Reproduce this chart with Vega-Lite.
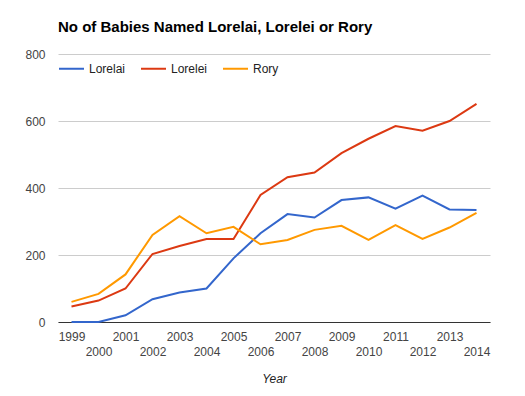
{
  "$schema": "https://vega.github.io/schema/vega-lite/v6.json",
  "width": 432,
  "height": 268,
  "autosize": {"type": "none"},
  "padding": {"left": 58, "top": 54, "right": 35, "bottom": 74},
  "background": "white",
  "config": {"font": "Liberation Sans", "view": {"stroke": null}},
  "title": {
    "text": "No of Babies Named Lorelai, Lorelei or Rory",
    "anchor": "start",
    "frame": "group",
    "fontSize": 15,
    "fontWeight": "bold",
    "color": "#000000",
    "offset": 13
  },
  "data": {
    "values": [
      {"Year": 1999, "Name": "Lorelai", "Count": 0},
      {"Year": 2000, "Name": "Lorelai", "Count": 0},
      {"Year": 2001, "Name": "Lorelai", "Count": 20},
      {"Year": 2002, "Name": "Lorelai", "Count": 68},
      {"Year": 2003, "Name": "Lorelai", "Count": 88},
      {"Year": 2004, "Name": "Lorelai", "Count": 100},
      {"Year": 2005, "Name": "Lorelai", "Count": 190},
      {"Year": 2006, "Name": "Lorelai", "Count": 265},
      {"Year": 2007, "Name": "Lorelai", "Count": 322},
      {"Year": 2008, "Name": "Lorelai", "Count": 312},
      {"Year": 2009, "Name": "Lorelai", "Count": 364},
      {"Year": 2010, "Name": "Lorelai", "Count": 372},
      {"Year": 2011, "Name": "Lorelai", "Count": 338},
      {"Year": 2012, "Name": "Lorelai", "Count": 377},
      {"Year": 2013, "Name": "Lorelai", "Count": 336},
      {"Year": 2014, "Name": "Lorelai", "Count": 334},
      {"Year": 1999, "Name": "Lorelei", "Count": 46},
      {"Year": 2000, "Name": "Lorelei", "Count": 64},
      {"Year": 2001, "Name": "Lorelei", "Count": 100},
      {"Year": 2002, "Name": "Lorelei", "Count": 203},
      {"Year": 2003, "Name": "Lorelei", "Count": 227},
      {"Year": 2004, "Name": "Lorelei", "Count": 248},
      {"Year": 2005, "Name": "Lorelei", "Count": 248},
      {"Year": 2006, "Name": "Lorelei", "Count": 379},
      {"Year": 2007, "Name": "Lorelei", "Count": 432},
      {"Year": 2008, "Name": "Lorelei", "Count": 446},
      {"Year": 2009, "Name": "Lorelei", "Count": 504},
      {"Year": 2010, "Name": "Lorelei", "Count": 547},
      {"Year": 2011, "Name": "Lorelei", "Count": 585},
      {"Year": 2012, "Name": "Lorelei", "Count": 571},
      {"Year": 2013, "Name": "Lorelei", "Count": 600},
      {"Year": 2014, "Name": "Lorelei", "Count": 651},
      {"Year": 1999, "Name": "Rory", "Count": 60},
      {"Year": 2000, "Name": "Rory", "Count": 84},
      {"Year": 2001, "Name": "Rory", "Count": 142},
      {"Year": 2002, "Name": "Rory", "Count": 260},
      {"Year": 2003, "Name": "Rory", "Count": 316},
      {"Year": 2004, "Name": "Rory", "Count": 265},
      {"Year": 2005, "Name": "Rory", "Count": 284},
      {"Year": 2006, "Name": "Rory", "Count": 232},
      {"Year": 2007, "Name": "Rory", "Count": 245},
      {"Year": 2008, "Name": "Rory", "Count": 275},
      {"Year": 2009, "Name": "Rory", "Count": 287},
      {"Year": 2010, "Name": "Rory", "Count": 245},
      {"Year": 2011, "Name": "Rory", "Count": 289},
      {"Year": 2012, "Name": "Rory", "Count": 248},
      {"Year": 2013, "Name": "Rory", "Count": 282},
      {"Year": 2014, "Name": "Rory", "Count": 326}
    ]
  },
  "mark": {"type": "line", "strokeWidth": 2},
  "encoding": {
    "x": {
      "field": "Year",
      "type": "ordinal",
      "scale": {"type": "point", "padding": 0.5},
      "axis": {
        "title": "Year",
        "titleFontStyle": "italic",
        "titleFontWeight": "normal",
        "titleFontSize": 12,
        "titleColor": "#222222",
        "titlePadding": 16,
        "labelAngle": 0,
        "labelFontSize": 12,
        "labelColor": "#444444",
        "labelOverlap": false,
        "labelBaseline": "top",
        "labelPadding": {"condition": {"test": "datum.value % 2 == 1", "value": 9}, "value": 24},
        "ticks": false,
        "domainColor": "#333333",
        "domainWidth": 1,
        "grid": false
      }
    },
    "y": {
      "field": "Count",
      "type": "quantitative",
      "scale": {"domain": [0, 800], "nice": false},
      "axis": {
        "title": null,
        "values": [0, 200, 400, 600, 800],
        "labelFontSize": 12,
        "labelColor": "#444444",
        "labelPadding": 13,
        "ticks": false,
        "domain": false,
        "gridColor": "#cccccc"
      }
    },
    "color": {
      "field": "Name",
      "type": "nominal",
      "scale": {"domain": ["Lorelai", "Lorelei", "Rory"], "range": ["#3366cc", "#dc3912", "#ff9900"]},
      "legend": {
        "orient": "none",
        "legendX": 0,
        "legendY": 1,
        "direction": "horizontal",
        "title": null,
        "symbolType": "stroke",
        "symbolSize": 625,
        "symbolStrokeWidth": 2,
        "labelOffset": 4,
        "columnPadding": 11,
        "labelFontSize": 12,
        "labelColor": "#222222"
      }
    }
  }
}
